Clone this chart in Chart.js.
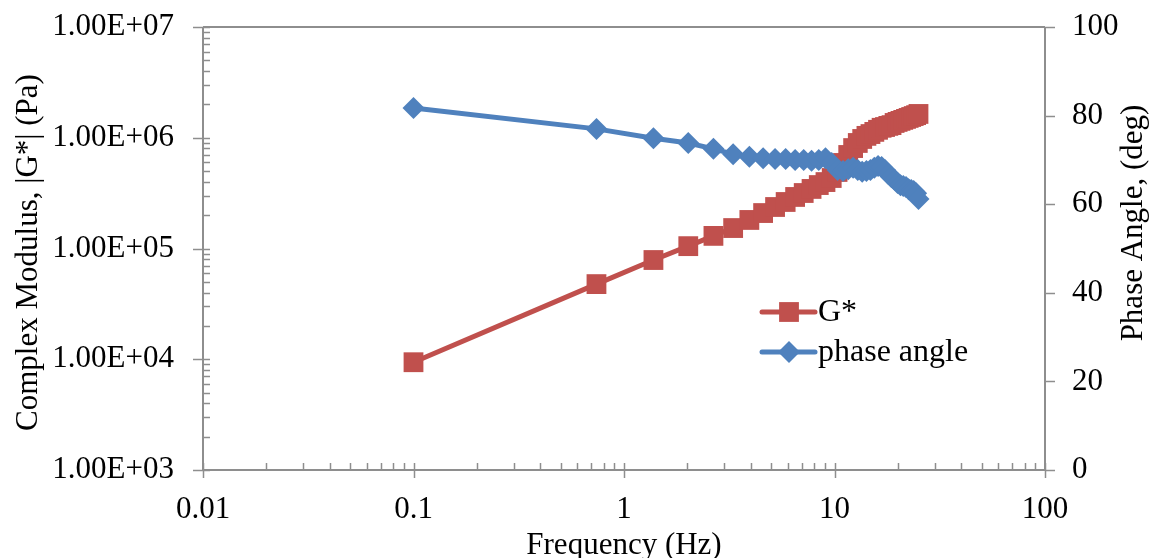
<!DOCTYPE html>
<html>
<head>
<meta charset="utf-8">
<script src="https://cdn.jsdelivr.net/npm/chart.js@4/dist/chart.umd.min.js"></script>
<style>
  html, body { margin: 0; padding: 0; background: #fff; }
  #wrap { width: 1154px; height: 558px; }
</style>
</head>
<body>
<div id="wrap"><canvas id="chart" width="1154" height="558"></canvas></div>
<script>
// frequency sweep (Hz)
const frequency = [0.1, 0.74, 1.38, 2.02, 2.66, 3.3, 3.94, 4.58, 5.22, 5.86, 6.5, 7.14, 7.78, 8.42, 9.06, 9.7,
    10.34, 10.98, 11.62, 12.26, 12.9, 13.54, 14.18, 14.82, 15.46, 16.1, 16.74, 17.38, 18.02, 18.66, 19.3, 19.94,
    20.58, 21.22, 21.86, 22.5, 23.14, 23.78, 24.42, 25.06];
// complex modulus |G*| (Pa)
const gStar = [9.4e3, 4.77e4, 7.87e4, 1.05e5, 1.30e5, 1.53e5, 1.81e5, 2.09e5, 2.37e5, 2.63e5, 2.92e5, 3.17e5, 3.45e5,
    3.74e5, 3.98e5, 4.33e5, 4.91e5, 5.92e5, 6.99e5, 8.07e5, 8.97e5, 9.75e5, 1.04e6, 1.08e6, 1.13e6, 1.18e6, 1.23e6,
    1.25e6, 1.28e6, 1.30e6, 1.36e6, 1.39e6, 1.42e6, 1.45e6, 1.48e6, 1.51e6, 1.54e6, 1.57e6, 1.60e6, 1.64e6];
// phase angle (deg)
const phaseAngle = [81.7, 77.0, 74.9, 73.8, 72.5, 71.3, 70.7, 70.4, 70.2, 70.2, 70.0, 70.0, 69.8, 70.0, 70.4, 69.3,
    67.7, 67.5, 67.9, 68.2, 67.7, 67.3, 67.5, 67.7, 68.2, 68.6, 68.4, 67.7, 66.8, 66.1, 65.5, 64.8, 64.3, 64.1,
    63.9, 63.4, 63.2, 63.0, 62.5, 61.2];

const xTicks = [0.01, 0.1, 1, 10, 100];
const leftTicks = [1e3, 1e4, 1e5, 1e6, 1e7];
const rightTicks = [0, 20, 40, 60, 80, 100];

const RED = '#C0504D';
const BLUE = '#4F81BD';
const AXIS = '#8e8e8e';
const FONT = '"Liberation Serif", "Times New Roman", serif';
const FS = 31;

function sci(v) {
    const e = Math.round(Math.log10(v));
    return '1.00E+' + String(e).padStart(2, '0');
}

// minor tick values for a log axis between min and max
function logMinors(min, max) {
    const out = [];
    for (let d = min; d < max; d *= 10) {
        for (let k = 2; k <= 9; k++) out.push(d * k);
    }
    return out;
}

// axis lines, tick marks, titles and legend
const decorations = {
    id: 'decorations',
    afterDraw(chart) {
        const ctx = chart.ctx;
        const { x, y, y1 } = chart.scales;
        const area = chart.chartArea;
        ctx.save();
        ctx.strokeStyle = AXIS;

        // axis lines + top border
        ctx.lineWidth = 2;
        ctx.beginPath();
        ctx.moveTo(area.left, area.top); ctx.lineTo(area.right, area.top);
        ctx.moveTo(area.left, area.top); ctx.lineTo(area.left, area.bottom);
        ctx.moveTo(area.left, area.bottom); ctx.lineTo(area.right, area.bottom);
        ctx.moveTo(area.right, area.top); ctx.lineTo(area.right, area.bottom);
        ctx.stroke();

        ctx.lineWidth = 1.5;
        ctx.beginPath();
        // x axis: major crossing, minor inside
        xTicks.forEach(v => {
            const px = Math.round(x.getPixelForValue(v)) + 0.5;
            ctx.moveTo(px, area.bottom - 7); ctx.lineTo(px, area.bottom + 8);
        });
        logMinors(0.01, 100).forEach(v => {
            const px = Math.round(x.getPixelForValue(v)) + 0.5;
            ctx.moveTo(px, area.bottom - 7); ctx.lineTo(px, area.bottom);
        });
        // left axis: major outside, minor inside
        leftTicks.forEach(v => {
            const py = Math.round(y.getPixelForValue(v)) + 0.5;
            ctx.moveTo(area.left - 10, py); ctx.lineTo(area.left + 7, py);
        });
        logMinors(1e3, 1e7).forEach(v => {
            const py = Math.round(y.getPixelForValue(v)) + 0.5;
            ctx.moveTo(area.left, py); ctx.lineTo(area.left + 7, py);
        });
        // right axis: major outside
        rightTicks.forEach(v => {
            const py = Math.round(y1.getPixelForValue(v)) + 0.5;
            ctx.moveTo(area.right, py); ctx.lineTo(area.right + 10, py);
        });
        ctx.stroke();

        // axis titles
        ctx.fillStyle = '#000';
        ctx.font = FS + 'px ' + FONT;
        ctx.textAlign = 'center';
        ctx.textBaseline = 'middle';
        ctx.fillText('Frequency (Hz)', (area.left + area.right) / 2, 546);

        ctx.save();
        ctx.translate(29, (area.top + area.bottom) / 2 + 4);
        ctx.rotate(-Math.PI / 2);
        ctx.fillText('Complex Modulus, |G*| (Pa)', 0, 0);
        ctx.restore();

        ctx.save();
        ctx.translate(1134, 223);
        ctx.rotate(-Math.PI / 2);
        ctx.fillText('Phase Angle, (deg)', 0, 0);
        ctx.restore();

        // legend
        const rows = [
            { label: 'G*', color: RED, style: 'rect', r: 14, yy: 312 },
            { label: 'phase angle', color: BLUE, style: 'rectRot', r: 11, yy: 352 }
        ];
        ctx.font = '32px ' + FONT;
        ctx.textAlign = 'left';
        rows.forEach(row => {
            ctx.strokeStyle = row.color;
            ctx.lineWidth = 5;
            ctx.lineCap = 'round';
            ctx.beginPath();
            ctx.moveTo(762, row.yy); ctx.lineTo(815, row.yy);
            ctx.stroke();
            ctx.fillStyle = row.color;
            Chart.helpers.drawPoint(ctx, { pointStyle: row.style, radius: row.r, borderWidth: 0 }, 789, row.yy);
            ctx.fillStyle = '#000';
            ctx.fillText(row.label, 818, row.yy + 1);
        });
        ctx.restore();
    }
};

const tickFont = { family: FONT, size: FS };

new Chart(document.getElementById('chart'), {
    type: 'line',
    data: {
        datasets: [
            {
                label: 'G*',
                data: frequency.map((f, i) => ({ x: f, y: gStar[i] })),
                yAxisID: 'y',
                borderColor: RED,
                backgroundColor: RED,
                borderWidth: 5,
                pointStyle: 'rect',
                pointRadius: 14,
                pointBorderWidth: 0,
                tension: 0,
                order: 2
            },
            {
                label: 'phase angle',
                data: frequency.map((f, i) => ({ x: f, y: phaseAngle[i] })),
                yAxisID: 'y1',
                borderColor: BLUE,
                backgroundColor: BLUE,
                borderWidth: 5,
                pointStyle: 'rectRot',
                pointRadius: 11,
                pointBorderWidth: 0,
                tension: 0,
                order: 1
            }
        ]
    },
    options: {
        responsive: false,
        animation: false,
        layout: { padding: { top: 27, left: 0, right: 0, bottom: 0 } },
        plugins: {
            legend: { display: false },
            tooltip: { enabled: false }
        },
        scales: {
            x: {
                type: 'logarithmic',
                min: 0.01,
                max: 100,
                afterBuildTicks: s => { s.ticks = xTicks.map(v => ({ value: v })); },
                afterFit: s => { s.height = 88; s.paddingLeft = 0; s.paddingRight = 0; },
                grid: { display: false, drawTicks: false },
                border: { display: false },
                ticks: {
                    font: tickFont,
                    color: '#000',
                    padding: 21,
                    maxRotation: 0,
                    autoSkip: false,
                    callback: v => String(v)
                }
            },
            y: {
                type: 'logarithmic',
                position: 'left',
                min: 1e3,
                max: 1e7,
                afterBuildTicks: s => { s.ticks = leftTicks.map(v => ({ value: v })); },
                afterFit: s => { s.width = 203; s.paddingTop = 0; s.paddingBottom = 0; },
                grid: { display: false, drawTicks: false },
                border: { display: false },
                ticks: {
                    font: tickFont,
                    color: '#000',
                    padding: 29,
                    autoSkip: false,
                    callback: v => sci(v)
                }
            },
            y1: {
                type: 'linear',
                position: 'right',
                min: 0,
                max: 100,
                afterBuildTicks: s => { s.ticks = rightTicks.map(v => ({ value: v })); },
                afterFit: s => { s.width = 109; s.paddingTop = 0; s.paddingBottom = 0; },
                grid: { display: false, drawTicks: false },
                border: { display: false },
                ticks: {
                    font: tickFont,
                    color: '#000',
                    padding: 27,
                    autoSkip: false
                }
            }
        }
    },
    plugins: [decorations]
});
</script>
</body>
</html>
